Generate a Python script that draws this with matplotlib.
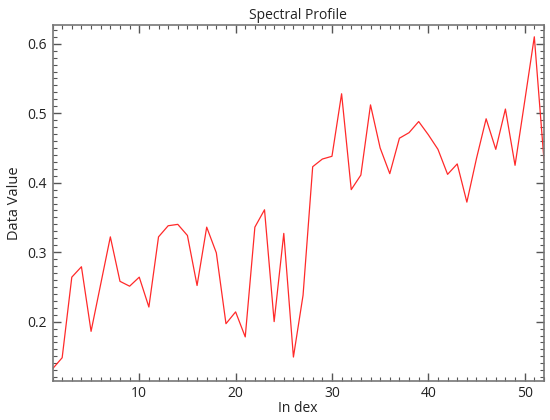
import matplotlib
matplotlib.use("Agg")
import matplotlib.pyplot as plt
from matplotlib.ticker import MultipleLocator, FormatStrFormatter

plt.rcParams['font.family'] = ['Open Sans', 'DejaVu Sans']

# band index and value
index = list(range(1, 53))
values = [0.132, 0.148, 0.264, 0.279, 0.186, 0.254, 0.322, 0.258, 0.251, 0.264,
          0.221, 0.322, 0.338, 0.340, 0.324, 0.252, 0.336, 0.299, 0.197, 0.214,
          0.178, 0.336, 0.361, 0.200, 0.327, 0.149, 0.238, 0.423, 0.434, 0.438,
          0.528, 0.390, 0.411, 0.512, 0.450, 0.413, 0.464, 0.472, 0.488, 0.469,
          0.448, 0.412, 0.427, 0.372, 0.435, 0.492, 0.448, 0.506, 0.425, 0.517,
          0.610, 0.433]

fig = plt.figure(figsize=(5.5, 4.2), dpi=100)
ax = fig.add_axes([0.0955, 0.092, 0.8935, 0.8485])

ax.plot(index, values, color='#ff2a2a', linewidth=0.9)

ax.set_xlim(1, 52)
ax.set_ylim(0.114, 0.627)

ax.xaxis.set_major_locator(MultipleLocator(10))
ax.xaxis.set_minor_locator(MultipleLocator(1))
ax.yaxis.set_major_locator(MultipleLocator(0.1))
ax.yaxis.set_minor_locator(MultipleLocator(0.01))
ax.yaxis.set_major_formatter(FormatStrFormatter('%.1f'))

ax.tick_params(which='both', direction='in', top=True, right=True,
               color='#555555', labelsize=10, labelcolor='#222222')
ax.tick_params(which='major', length=6, width=1)
ax.tick_params(which='minor', length=3, width=0.8)
ax.tick_params(axis='x', pad=3)
ax.tick_params(axis='y', pad=4)

for s in ax.spines.values():
    s.set_color('#777777')
    s.set_linewidth(1.2)

ax.set_title('Spectral Profile', fontsize=10, pad=4, color='#222222')
ax.set_xlabel('In dex', fontsize=10, labelpad=0, color='#222222')
ax.set_ylabel('Data Value', fontsize=10.5, labelpad=4, color='#222222')

fig.savefig('out.png', dpi=100)
